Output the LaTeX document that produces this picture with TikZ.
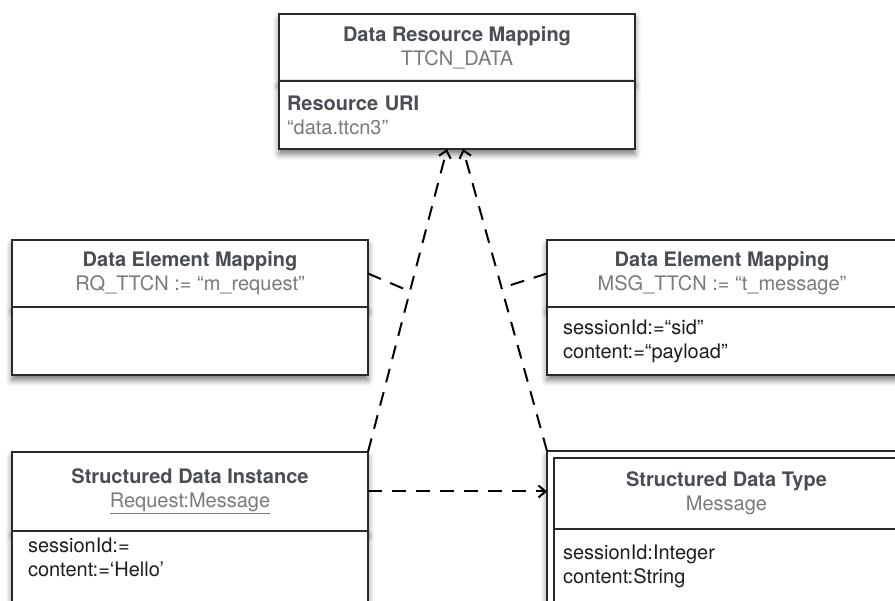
\documentclass[tikz,border=0pt]{standalone}
\usepackage{fontspec}
\setmainfont{TeX Gyre Heros}
\usepackage{tikz}
\usetikzlibrary{arrows.meta,positioning,shadows.blur}
\definecolor{headgray}{HTML}{4A4D53}
\definecolor{subgray}{HTML}{7A7A7A}
\definecolor{textblack}{HTML}{1E1E1E}
\definecolor{framegray}{HTML}{2A2A2A}

\begin{document}
\begin{tikzpicture}[
  x=1pt, y=-1pt,
  font=\fontsize{20}{24}\selectfont,
  umlbox/.style={draw=framegray, line width=1.2pt, fill=white,
    inner sep=0pt, outer sep=0pt},
  dropped/.style={blur shadow={shadow xshift=0pt, shadow yshift=-5pt,
    shadow blur radius=6pt, shadow opacity=55}},
  head/.style={umlbox, anchor=north west, minimum width=356pt,
    align=center, text=headgray},
  body/.style={umlbox, anchor=north, minimum width=356pt,
    align=left, text=textblack},
  link/.style={draw=black, line width=2pt, dash pattern=on 14pt off 10pt,
    -{Straight Barb[length=7pt,width=12pt]}},
]
  \useasboundingbox (0,0) rectangle (895,601);
  \clip (0,0) rectangle (895,601);

  % Data resource mapping
  \node[head, dropped, minimum height=67pt] (reshd) at (279,14)
    {\textbf{Data Resource Mapping}\\{\color{subgray}TTCN\_DATA}};
  \node[body, dropped, below=0pt of reshd, minimum height=68pt,
    text width=340pt, inner xsep=8pt] (resbody)
    {\textcolor{headgray}{\textbf{Resource URI}}\\\textcolor{subgray}{“data.ttcn3”}};

  % Element mappings
  \node[head, dropped, minimum height=67pt] (rqhd) at (12,240)
    {\textbf{Data Element Mapping}\\{\color{subgray}RQ\_TTCN := “m\_request”}};
  \node[body, dropped, below=0pt of rqhd, minimum height=68pt] (rqbody) {};

  \node[head, dropped, minimum width=350pt, minimum height=67pt] (msghd) at (547,240)
    {\textbf{Data Element Mapping}\\{\color{subgray}MSG\_TTCN := “t\_message”}};
  \node[body, dropped, below=0pt of msghd, minimum width=350pt, minimum height=68pt,
    text width=318pt, inner xsep=16pt] (msgbody)
    {sessionId:=“sid”\\content:=“payload”};

  % Instance
  \node[head, dropped, minimum height=79pt] (insthd) at (12,452)
    {\textbf{Structured Data Instance}\\{\color{subgray}\underline{Request:Message}}};
  \node[body, dropped, below=0pt of insthd, text width=324pt, inner xsep=16pt,
    inner ysep=7pt, text depth=70pt] (instbody)
    {sessionId:=\\content:=‘Hello’};

  % Type, inside its outer frame
  \node[umlbox, dropped, anchor=north west, minimum width=360pt,
    minimum height=170pt] (typeframe) at (547,451) {};
  \node[head, minimum width=345pt, minimum height=71pt] (typehd) at (554,458)
    {\textbf{Structured Data Type}\\{\color{subgray}Message}};
  \node[body, below=0pt of typehd, minimum width=345pt, text width=327pt,
    inner xsep=9pt, inner ysep=16pt, text depth=70pt] (typebody)
    {sessionId:Integer\\content:String};

  % Dependencies
  \draw[link] (insthd.north east) -- ([xshift=-10pt]resbody.south)
    coordinate[pos=0.53] (rqjoin);
  \draw[link] (typeframe.north west) -- ([xshift=6pt]resbody.south)
    coordinate[pos=0.54] (msgjoin);
  \draw[link, -] (rqhd.east) -- (rqjoin);
  \draw[link, -] (msghd.west) -- (msgjoin);
  \draw[link] (insthd.east) -- (insthd.east -| typeframe.west);
\end{tikzpicture}
\end{document}
